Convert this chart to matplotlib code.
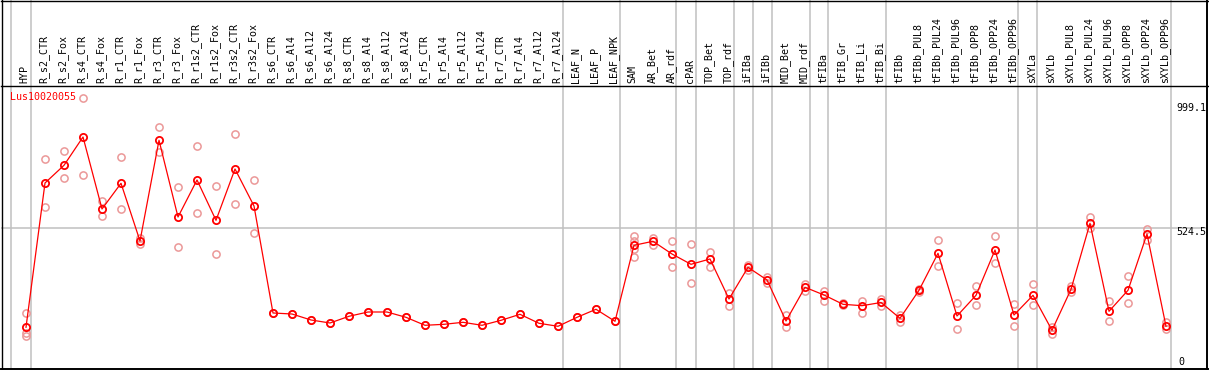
import matplotlib
matplotlib.use("Agg")
import matplotlib.pyplot as plt
import matplotlib.transforms as mtransforms
from matplotlib.lines import Line2D

categories = ["HYP", "R_s2_CTR", "R_s2_Fox", "R_s4_CTR", "R_s4_Fox", "R_r1_CTR", "R_r1_Fox",
              "R_r3_CTR", "R_r3_Fox", "R_r1s2_CTR", "R_r1s2_Fox", "R_r3s2_CTR", "R_r3s2_Fox",
              "R_s6_CTR", "R_s6_Al4", "R_s6_Al12", "R_s6_Al24", "R_s8_CTR", "R_s8_Al4",
              "R_s8_Al12", "R_s8_Al24", "R_r5_CTR", "R_r5_Al4", "R_r5_Al12", "R_r5_Al24",
              "R_r7_CTR", "R_r7_Al4", "R_r7_Al12", "R_r7_Al24", "LEAF_N", "LEAF_P", "LEAF_NPK",
              "SAM", "AR_Bet", "AR_rdf", "cPAR", "TOP_Bet", "TOP_rdf", "iFIBa", "iFIBb",
              "MID_Bet", "MID_rdf", "tFIBa", "tFIB_Gr", "tFIB_Li", "tFIB_Bi", "tFIBb",
              "tFIBb_PUL8", "tFIBb_PUL24", "tFIBb_PUL96", "tFIBb_OPP8", "tFIBb_OPP24",
              "tFIBb_OPP96", "sXYLa", "sXYLb", "sXYLb_PUL8", "sXYLb_PUL24", "sXYLb_PUL96",
              "sXYLb_OPP8", "sXYLb_OPP24", "sXYLb_OPP96"]

mean_values = [155.5, 693.4, 759.4, 864.9, 596.5, 692.3, 477.2, 852.6, 566.6, 704.6, 554.3,
               745.6, 607.6, 208.8, 205.0, 182.7, 171.5, 196.5, 212.5, 212.5, 192.7, 162.9,
               166.6, 174.1, 162.9, 181.5, 203.9, 170.4, 159.2, 192.7, 222.6, 177.8,
               461.1, 476.1, 428.7, 390.3, 410.1, 261.0, 379.1, 331.8, 178.9, 304.6, 275.9,
               241.2, 236.0, 247.9, 189.0, 293.4, 431.3, 197.6, 274.7, 443.6, 201.3, 274.7,
               144.3, 297.1, 543.2, 215.1, 293.4, 503.3, 159.2]

replicates = [
    [209.9, 133.1, 123.0], [781.7, 602.8], [812.7, 710.9], [1009.1, 722.1], [626.3, 569.3],
    [789.2, 596.5], [487.2, 464.9], [901.0, 807.8], [677.4, 453.7], [831.3, 580.4],
    [681.1, 428.7], [874.9, 614.0], [704.6, 505.9],
    [208.8], [205.0], [182.7], [171.5], [196.5], [212.5], [212.5], [192.7], [162.9],
    [166.6], [174.1], [162.9], [181.5], [203.9], [170.4], [159.2], [192.7], [222.6], [177.8],
    [495.8, 477.0, 446.2, 416.4], [489.5, 462.3], [477.2, 379.1], [464.9, 319.5],
    [436.2, 381.4], [282.2, 236.0], [387.7, 369.1], [344.1, 319.5], [201.3, 157.7],
    [318.0, 290.8], [290.8, 254.6], [244.9, 237.5], [254.6, 209.9], [261.0, 234.9],
    [201.3, 176.3], [299.3, 287.1], [479.8, 382.9], [244.9, 148.0], [308.3, 237.5],
    [495.8, 394.0], [241.2, 160.3], [315.8, 237.5], [157.7, 129.4], [309.4, 288.2],
    [566.6, 524.5], [254.6, 177.8], [345.6, 244.9], [521.9, 479.8], [176.3, 148.0]]

group_separators = [-0.8, 0.25, 28.25, 31.25, 34.2, 35.25, 37.25, 38.25, 39.25, 41.25,
                    42.2, 45.25, 52.2, 53.2, 60.25]

gene = "Lus10020055"
tick_texts = ["999.1", "524.5", "0"]
mid_value = 524.5

W, H = 1209, 370
fig = plt.figure(figsize=(W / 100, H / 100), dpi=100)
fig.patch.set_facecolor("white")

# plot region: x 1..1207 px, y 85..369 px (from top)
ax = fig.add_axes([1 / W, 1 / H, 1206 / W, 284 / H])
ax.set_xlim(-1.316, (1207 - 26) / 19)
ax.set_ylim(0, 1058.7)
ax.set_xticks([])
ax.set_yticks([])
for s in ax.spines.values():
    s.set_visible(False)

mono = "DejaVu Sans Mono"
fs = 7.2
red = "#ff0000"
light = "#eb9898"
grey = "#c0c0c0"

trans = mtransforms.blended_transform_factory(ax.transData, ax.transAxes)
ext_top = 369 / 284
ax.vlines(group_separators, 0, ext_top, transform=trans, colors=grey, lw=1.1,
          clip_on=False, zorder=1)
ax.axhline(mid_value, color=grey, lw=1.1, zorder=1)

xs = list(range(len(categories)))
for i, reps in enumerate(replicates):
    ax.plot([i] * len(reps), reps, linestyle="none", marker="o", markersize=5.2,
            markerfacecolor="none", markeredgecolor=light, markeredgewidth=1.1,
            zorder=2, clip_on=False)
ax.plot(xs, mean_values, color=red, lw=0.9, zorder=3)
ax.plot(xs, mean_values, linestyle="none", marker="o", markersize=5.2,
        markerfacecolor="none", markeredgecolor=red, markeredgewidth=1.3, zorder=4)

for i, lab in enumerate(categories):
    ax.text(i - 0.06, 1 + 2 / 284, lab, transform=trans, rotation=90, ha="center",
            va="bottom", fontsize=fs, family=mono, color="black", clip_on=False)

ax.text((9.7 - 1) / 1206, (369 - 97.0) / 284, gene, transform=ax.transAxes, ha="left",
        va="center", fontsize=fs, family=mono, color=red)

tick_y = [(369 - 108) / 284, (369 - 231.7) / 284, (369 - 361.7) / 284]
tick_x = [(1176.5 - 1) / 1206, (1176.5 - 1) / 1206, (1178.5 - 1) / 1206]
for t, xx, yy in zip(tick_texts, tick_x, tick_y):
    ax.text(xx, yy, t, transform=ax.transAxes, ha="left", va="center",
            fontsize=fs, family=mono, color="black")

# frame lines in figure pixel coordinates
def hline(y, x0, x1, lw=1.0):
    fig.add_artist(Line2D([x0 / W, x1 / W], [1 - y / H, 1 - y / H], color="black",
                          lw=lw, transform=fig.transFigure))

def vline(x, y0, y1, lw=1.0):
    fig.add_artist(Line2D([x / W, x / W], [1 - y0 / H, 1 - y1 / H], color="black",
                          lw=lw, transform=fig.transFigure))

hline(0.5, 1, 1208)
hline(85.5, 1, 1208)
hline(368.8, 1, 1208, lw=1.4)
vline(1.5, 0, 369)
vline(1207.3, 0, 369, lw=1.4)

fig.savefig("out.png", dpi=100, facecolor="white")
